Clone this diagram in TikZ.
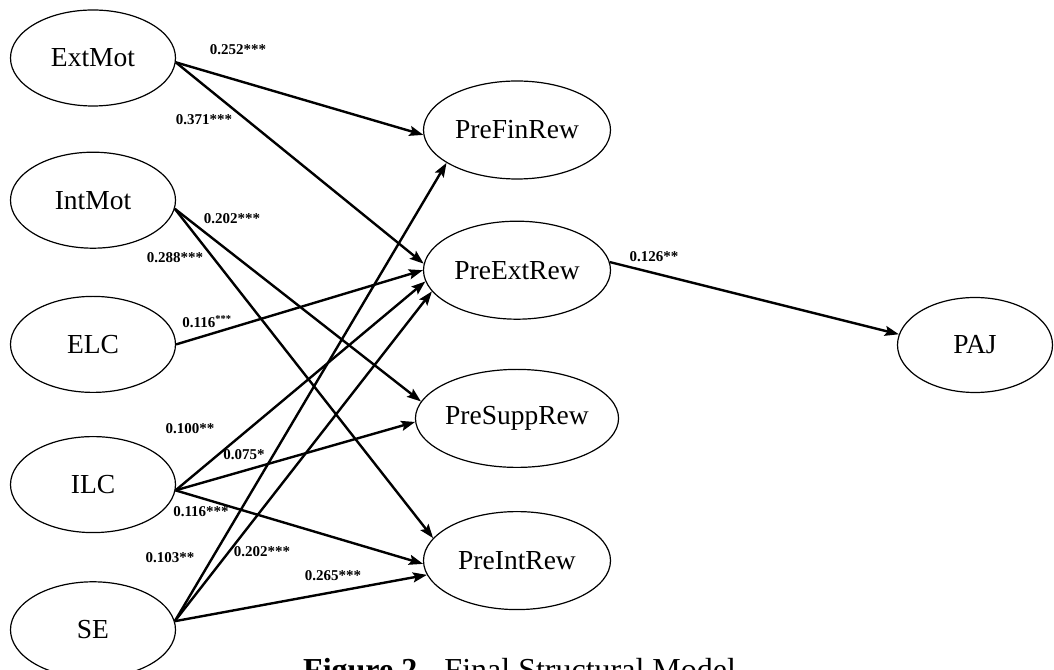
\documentclass[tikz,border=0pt]{standalone}
\usepackage{fontspec}
\setmainfont{Liberation Serif}
\usetikzlibrary{positioning, arrows.meta, shapes.geometric}

\tikzset{
	latent/.style={ellipse, draw, line width=1.2pt, inner sep=0pt, minimum width=165pt, minimum height=96pt, font=\fontsize{27.5}{30}\selectfont},
	reward/.style={latent, minimum width=187pt, minimum height=98pt},
	coef/.style={inner sep=0pt, font=\bfseries\fontsize{15}{17}\selectfont},
}

\begin{document}
\begin{tikzpicture}[>={Stealth[length=14pt,width=10pt,inset=2.5pt]}, line width=2.4pt]
		\useasboundingbox (0,0) rectangle (1054pt,669pt);
		
		\node[latent] (extmot) at (93pt,611pt) {ExtMot};
		\node[latent, below=45pt of extmot] (intmot) {IntMot};
		\node[latent, below=47pt of intmot] (elc) {ELC};
		\node[latent, below=43pt of elc] (ilc) {ILC};
		\node[latent, below=48pt of ilc] (se) {SE};
		
		\node[reward] (prefin) at (517pt,539pt) {PreFinRew};
		\node[reward, below=41pt of prefin] (preext) {PreExtRew};
		\node[reward, below=49pt of preext] (presupp) {PreSuppRew};
		\node[reward, below=43pt of presupp] (preint) {PreIntRew};
		
		\node[latent, minimum width=155pt, minimum height=95pt] (paj) at (975pt,324pt) {PAJ};
		
		\draw[->] (extmot.-3) -- (prefin.183);
		\draw[->] (extmot.-3) -- (preext.176);
		\draw[->] (intmot.-6) -- (presupp.170);
		\draw[->] (intmot.-6) -- (preint.165);
		\draw[->] (elc.east) -- (preext.180);
		\draw[->] (ilc.-4) -- (preext.187);
		\draw[->] (ilc.-4) -- (presupp.182);
		\draw[->] (ilc.-4) -- (preint.182);
		\draw[->] (se.6) -- (prefin.205);
		\draw[->] (se.6) -- (preext.194);
		\draw[->] (se.6) -- (preint.189);
		\draw[->] (preext.5) -- (paj.172);
		
		\node[coef] (c-extmot-prefin) at (238pt,619pt) {0.252***};
		\node[coef] (c-extmot-preext) at (204pt,549pt) {0.371***};
		\node[coef] (c-intmot-presupp) at (232pt,450pt) {0.202***};
		\node[coef] (c-intmot-preint) at (175pt,411pt) {0.288***};
		\node[coef] (c-elc-preext) at (207pt,347pt) {0.116\textsuperscript{***}};
		\node[coef] (c-ilc-preext) at (190pt,240pt) {0.100**};
		\node[coef] (c-ilc-presupp) at (244pt,214pt) {0.075*};
		\node[coef] (c-ilc-preint) at (201pt,157pt) {0.116***};
		\node[coef] (c-se-prefin) at (170pt,111pt) {0.103**};
		\node[coef] (c-se-preext) at (262pt,117pt) {0.202***};
		\node[coef] (c-se-preint) at (333pt,93pt) {0.265***};
		\node[coef] (c-preext-paj) at (654pt,412pt) {0.126**};
		
		\node[anchor=north west, inner sep=0pt, font=\fontsize{32}{36}\selectfont] (caption) at (302pt,12pt) {\textbf{Figure 2}.\hspace{0.6em}Final Structural Model};
		
	\end{tikzpicture}
\end{document}
